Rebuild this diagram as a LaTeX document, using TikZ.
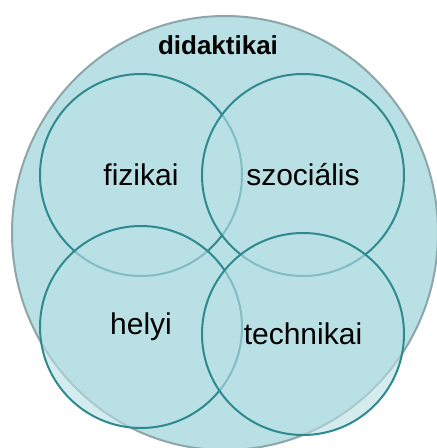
\documentclass[tikz,border=0pt]{standalone}
\usepackage{fontspec}
\setmainfont{Liberation Sans}
\usetikzlibrary{positioning,shapes.geometric}
\definecolor{vennfill}{RGB}{185,224,228}
\definecolor{vennline}{RGB}{46,138,143}
\definecolor{outerline}{RGB}{140,166,170}

\begin{document}
\begin{tikzpicture}[x=1pt,y=-1pt,
    outer/.style={ellipse,draw=outerline,line width=2pt,fill=vennfill,minimum width=426pt,minimum height=434pt,inner sep=0pt},
    part/.style={circle,draw=vennline,line width=2pt,fill=vennfill,fill opacity=0.6,text opacity=1,
      minimum size=202pt,inner sep=0pt,font=\fontsize{30}{36}\selectfont}]
      \useasboundingbox (0,0) rectangle (437,448);

      \node[outer] (didaktikai) at (225,233) {};
      \node[font=\fontsize{26}{30}\selectfont\bfseries] (cim) at (218,45) {didaktikai};

      \foreach \nm/\txt/\x/\y in {fizikai/fizikai/141/175, szocialis/szociális/303/175,
                                  helyi/helyi/141/327, technikai/technikai/303/334} {
        \node[part] (\nm) at (\x,\y) {\txt};
      }
    \end{tikzpicture}
\end{document}
